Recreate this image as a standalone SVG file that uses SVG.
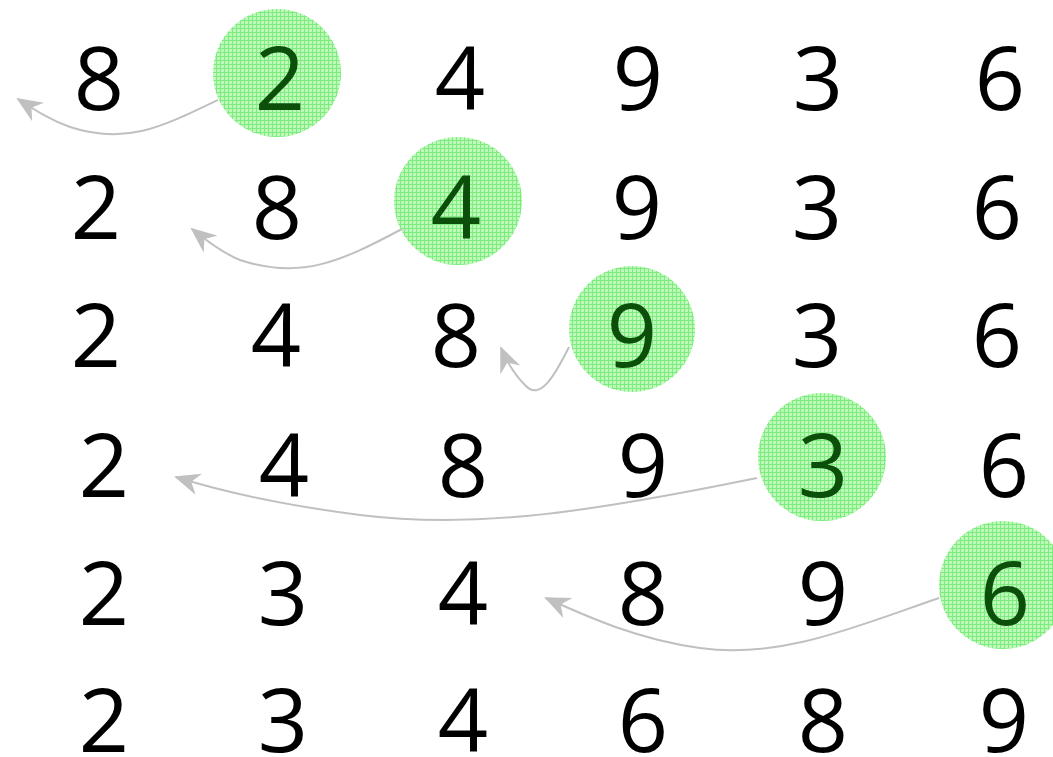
<svg xmlns="http://www.w3.org/2000/svg" width="1053" height="757" viewBox="0 0 1053 757">
  <defs>
    <!-- cross-hatched green fill for the highlighted key -->
    <pattern id="hatch" width="4" height="4" patternUnits="userSpaceOnUse">
      <rect width="4" height="4" fill="#bff8bb"/>
      <path d="M0,0.5 H4 M0.5,0 V4" stroke="#7cec7c" stroke-width="1"/>
    </pattern>
    <marker id="head" viewBox="0 0 26 22" refX="24" refY="11" markerWidth="26" markerHeight="22" markerUnits="userSpaceOnUse" orient="auto">
      <path d="M0,0 L26,11 L0,22 L8,11 Z" fill="#c0c0c0"/>
    </marker>
  </defs>
  <style>
    .num { font-family: "Open Sans", "DejaVu Sans", sans-serif; font-size: 88px; fill: #000; text-anchor: middle; }
    .key { fill: url(#hatch); }
    .keynum { fill: #0b4f0b; }
    .move { fill: none; stroke: #c0c0c0; stroke-width: 2; marker-end: url(#head); }
  </style>

  <rect width="1053" height="757" fill="#fff"/>

  <!-- highlighted keys -->
  <g id="key1"><circle class="key" cx="277" cy="73" r="64"/></g>
  <g id="key2"><circle class="key" cx="458" cy="201" r="64"/></g>
  <g id="key3"><circle class="key" cx="632" cy="329" r="63"/></g>
  <g id="key4"><circle class="key" cx="822" cy="457" r="64"/></g>
  <g id="key5"><circle class="key" cx="1003" cy="585" r="64"/></g>

  <!-- insertion moves -->
  <g id="connectors">
    <path class="move" d="M218,100 C160,128 125,145 70,127 C50,120 35,110 18,99"/>
    <path class="move" d="M402,229 C340,262 300,280 240,260 C225,254 208,242 192,229"/>
    <path class="move" d="M569,347 C555,375 540,402 525,385 C515,375 507,362 501,348"/>
    <path class="move" d="M757,478 C600,510 480,530 360,515 C290,506 230,494 176,477"/>
    <path class="move" d="M939,598 C860,625 780,660 700,648 C640,640 590,618 546,598"/>
  </g>

  <g id="row1">
    <text class="num" x="99" y="110">8</text>
    <text class="num keynum" x="280" y="110">2</text>
    <text class="num" x="460" y="110">4</text>
    <text class="num" x="638" y="110">9</text>
    <text class="num" x="818" y="110">3</text>
    <text class="num" x="1000" y="110">6</text>
  </g>
  <g id="row2">
    <text class="num" x="96" y="239">2</text>
    <text class="num" x="277" y="239">8</text>
    <text class="num keynum" x="456" y="239">4</text>
    <text class="num" x="637" y="239">9</text>
    <text class="num" x="817" y="239">3</text>
    <text class="num" x="997" y="239">6</text>
  </g>
  <g id="row3">
    <text class="num" x="96" y="367">2</text>
    <text class="num" x="276" y="367">4</text>
    <text class="num" x="456" y="367">8</text>
    <text class="num keynum" x="632" y="367">9</text>
    <text class="num" x="817" y="367">3</text>
    <text class="num" x="997" y="367">6</text>
  </g>
  <g id="row4">
    <text class="num" x="104" y="497">2</text>
    <text class="num" x="284" y="497">4</text>
    <text class="num" x="463" y="497">8</text>
    <text class="num" x="643" y="497">9</text>
    <text class="num keynum" x="823" y="497">3</text>
    <text class="num" x="1004" y="497">6</text>
  </g>
  <g id="row5">
    <text class="num" x="104" y="625">2</text>
    <text class="num" x="283" y="625">3</text>
    <text class="num" x="463" y="625">4</text>
    <text class="num" x="643" y="625">8</text>
    <text class="num" x="823" y="625">9</text>
    <text class="num keynum" x="1005" y="625">6</text>
  </g>
  <g id="row6">
    <text class="num" x="104" y="752">2</text>
    <text class="num" x="283" y="752">3</text>
    <text class="num" x="463" y="752">4</text>
    <text class="num" x="643" y="752">6</text>
    <text class="num" x="823" y="752">8</text>
    <text class="num" x="1004" y="752">9</text>
  </g>
</svg>
